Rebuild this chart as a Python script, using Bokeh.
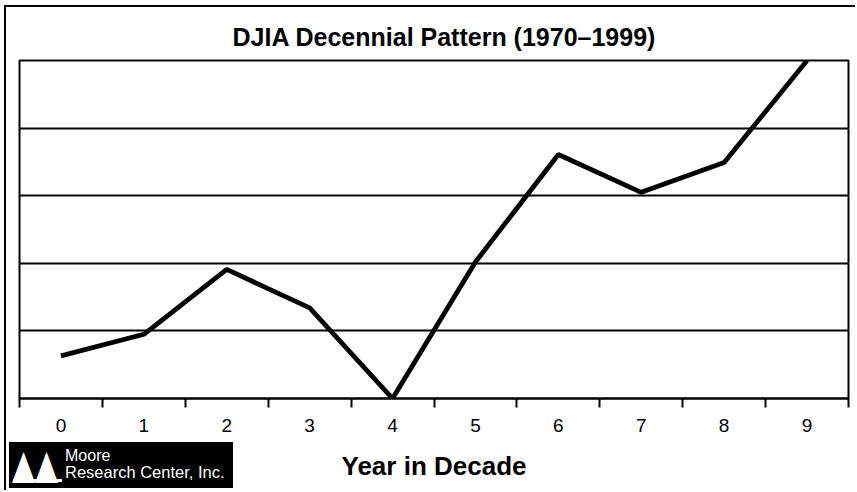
from bokeh.plotting import figure
from bokeh.models import FixedTicker, Range1d, Grid, Div
from bokeh.layouts import column
from bokeh.embed import file_html
from bokeh.resources import INLINE

# ---- data ----
years = [0, 1, 2, 3, 4, 5, 6, 7, 8, 9]
pattern = [0.63, 0.95, 1.91, 1.34, 0.0, 2.02, 3.61, 3.05, 3.49, 5.0]
x_tick_labels = ["0", "1", "2", "3", "4", "5", "6", "7", "8", "9"]
grid_levels = [0, 1, 2, 3, 4, 5]
boundaries = [y - 0.5 for y in years] + [years[-1] + 0.5]

FONT = "Liberation Sans"

p = figure(width=851, height=485, output_backend="svg", toolbar_location=None,
           x_range=Range1d(years[0] - 0.5, years[-1] + 0.5),
           y_range=Range1d(grid_levels[0], grid_levels[-1]),
           y_axis_location=None,
           min_border_left=13, min_border_right=9, min_border_top=53, min_border_bottom=94,
           background_fill_color="white", border_fill_color="white",
           styles={"margin-left": "4px", "margin-top": "5px",
                   "border-left": "2px solid black", "border-top": "2px solid black"})

# title
p.title.text = "DJIA Decennial Pattern (1970\u20131999)"
p.title.text_font = FONT
p.title.text_font_size = "25px"
p.title.text_font_style = "bold"
p.title.text_color = "black"
p.title.align = "left"
p.title.offset = 213
p.title.standoff = 20

# frame
p.outline_line_color = "black"
p.outline_line_width = 2
p.outline_line_alpha = 1

# grid
p.xgrid.grid_line_color = None
ygrid = Grid(dimension=1, ticker=FixedTicker(ticks=grid_levels),
             grid_line_color="black", grid_line_width=2)
p.add_layout(ygrid)

# x axis
xa = p.xaxis[0]
xa.ticker = FixedTicker(ticks=years, minor_ticks=boundaries)
xa.major_label_overrides = {yr: lab for yr, lab in zip(years, x_tick_labels)}
xa.major_tick_out = 0
xa.major_tick_in = 0
xa.minor_tick_out = 9
xa.minor_tick_in = 0
xa.minor_tick_line_color = "black"
xa.minor_tick_line_width = 2
xa.axis_line_color = "black"
xa.axis_line_width = 2
xa.major_label_text_font = FONT
xa.major_label_text_font_size = "19px"
xa.major_label_text_color = "black"
xa.major_label_standoff = 11
xa.axis_label = "Year in Decade"
xa.axis_label_text_font = FONT
xa.axis_label_text_font_size = "26px"
xa.axis_label_text_font_style = "bold"
xa.axis_label_text_color = "black"
xa.axis_label_standoff = 16

# data line
p.line(years, pattern, line_color="black", line_width=4.8)

# ---- logo: black badge overlapping the bottom-left corner ----
logo_html = (
    '<div style="position:relative;width:224px;height:46px;background:#000;'
    'color:#fff;font-family:\'Liberation Sans\',sans-serif;overflow:hidden;">'
    '<span style="position:absolute;left:3px;top:11px;font-family:\'DejaVu Sans\';'
    'font-size:30px;line-height:30px;white-space:nowrap;'
    'transform:scale(1,1.35);transform-origin:0 25px;">\u25b2\u25b2</span>'
    '<span style="position:absolute;left:4px;top:37px;width:49px;height:3px;'
    'background:#fff;"></span>'
    '<span style="position:absolute;left:56px;top:6px;font-size:16px;line-height:16px;'
    'white-space:nowrap;">Moore</span>'
    '<span style="position:absolute;left:56px;top:22px;font-size:16.5px;line-height:17px;'
    'white-space:nowrap;">Research Center, Inc.</span>'
    '</div>'
)
logo = Div(text=logo_html, width=224, height=46,
           styles={"margin-left": "9px", "margin-top": "-48px"})

layout = column(p, logo, spacing=0)
open("out.html", "w").write(file_html(layout, INLINE))
